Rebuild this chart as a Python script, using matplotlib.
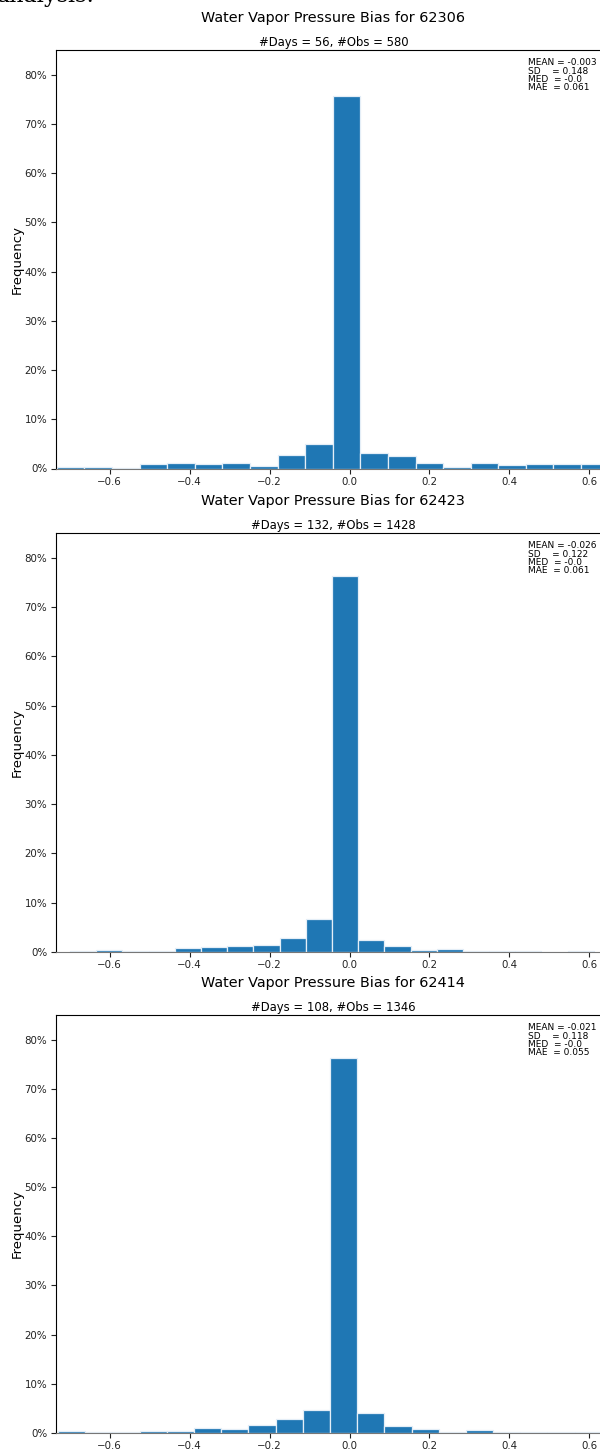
"""Water vapor pressure bias histograms for three stations."""

import matplotlib

matplotlib.use("Agg")
import matplotlib.pyplot as plt
import numpy as np
from matplotlib.ticker import FuncFormatter, MultipleLocator

stations = ["62306", "62423", "62414"]
n_days = [56, 132, 108]
n_obs = [580, 1428, 1346]
stat_mean = [-0.003, -0.026, -0.021]
stat_sd = [0.148, 0.122, 0.118]
stat_med = [-0.0, -0.0, -0.0]
stat_mae = [0.061, 0.061, 0.055]

# histogram bins (left edge of first bin, bin width)
bin_start = [-0.732, -0.699, -0.729]
bin_width = [0.069, 0.0655, 0.068]

# frequency per bin, percent
freq_62306 = [0.34, 0.34, 0.17, 0.86, 1.03, 0.86, 1.21, 0.52, 2.76, 5.0,
              75.6, 3.1, 2.59, 1.03, 0.34, 1.03, 0.69, 0.86, 0.86, 0.86]
freq_62423 = [0.21, 0.42, 0.21, 0.21, 0.91, 0.98, 1.12, 1.33, 2.87, 6.79,
              76.3, 2.45, 1.26, 0.42, 0.56, 0.28, 0.21, 0.14, 0.0, 0.28]
freq_62414 = [0.45, 0.15, 0.30, 0.37, 0.37, 1.04, 0.89, 1.71, 2.9, 4.68,
              76.2, 4.01, 1.41, 0.82, 0.22, 0.52, 0.15, 0.30, 0.30, 0.30]
freqs = [freq_62306, freq_62423, freq_62414]

W, H = 600, 1452
fig = plt.figure(figsize=(W / 100, H / 100), dpi=100)

# a cut-off line of document text above the figure
fig.text(-0.005, 1 - 2 / H, "analysis:", family="DejaVu Serif", fontsize=16,
         ha="left", va="baseline")

ax_left, ax_right = 55.7, 611.0
tops = [50, 533, 1015]
bottoms = [468.5, 952, 1433]

for i, st in enumerate(stations):
    top, bot = tops[i], bottoms[i]
    ax = fig.add_axes([ax_left / W, 1 - bot / H, (ax_right - ax_left) / W, (bot - top) / H])
    vals = np.array(freqs[i])
    edges = bin_start[i] + bin_width[i] * np.arange(len(vals))
    ax.bar(edges, vals, width=bin_width[i], align="edge", color="#1f77b4",
           edgecolor="#e4eef7", linewidth=0.9)

    ax.set_xlim(-0.735, 0.654)
    ax.set_ylim(0, 85)
    ax.xaxis.set_major_locator(MultipleLocator(0.2))
    ax.yaxis.set_major_locator(MultipleLocator(10))
    ax.yaxis.set_major_formatter(FuncFormatter(lambda v, p: f"{v:.0f}%"))
    ax.tick_params(labelsize=7.4, length=3.5, width=0.8, pad=2.5, colors="#222222")
    for s in ax.spines.values():
        s.set_linewidth(0.8)
    ax.spines["bottom"].set_color("#777777")

    ax.set_ylabel("Frequency", fontsize=9.5)
    ax.yaxis.set_label_coords(-0.058, 0.5)

    ax.annotate(f"Water Vapor Pressure Bias for {st}", xy=(0.5, 1), xycoords="axes fraction",
                xytext=(0, 23), textcoords="offset points", ha="center", va="center",
                fontsize=10.4)
    ax.annotate(f"#Days = {n_days[i]}, #Obs = {n_obs[i]}", xy=(0.5, 1), xycoords="axes fraction",
                xytext=(0, 5.5), textcoords="offset points", ha="center", va="center",
                fontsize=8.4)

    stats = (f"MEAN = {stat_mean[i]}\nSD    = {stat_sd[i]}\n"
             f"MED  = {stat_med[i]}\nMAE  = {stat_mae[i]}")
    ax.text(0.85, 0.98, stats, transform=ax.transAxes, ha="left", va="top",
            fontsize=6.5, linespacing=0.9)

fig.savefig("out.png", dpi=100)
